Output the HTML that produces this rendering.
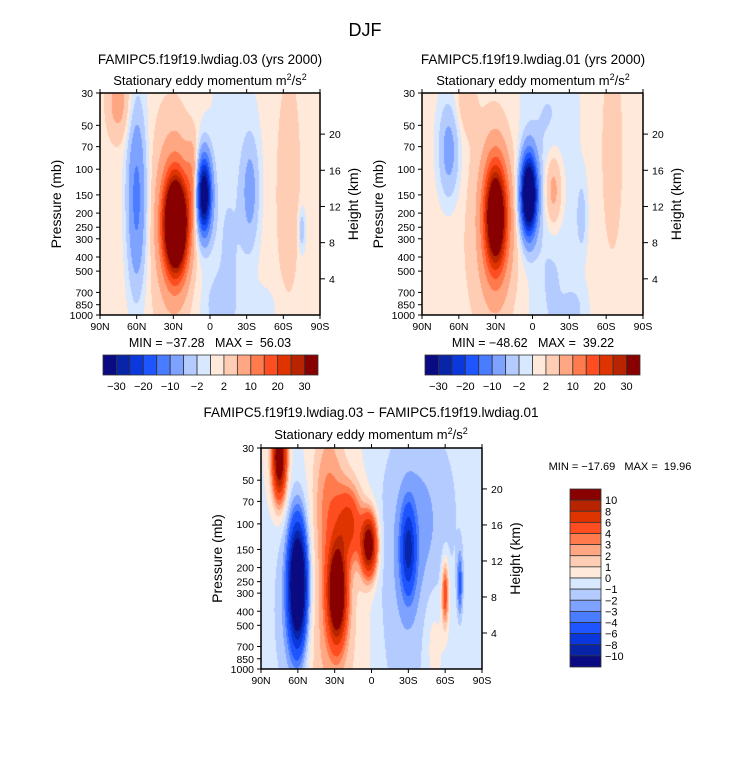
<!DOCTYPE html>
<html><head><meta charset="utf-8">
<style>
body{margin:0;background:#fff;width:733px;height:762px;overflow:hidden;font-family:"Liberation Sans",sans-serif}
#wrap{position:relative;width:733px;height:762px}
canvas{position:absolute}
svg{position:absolute;left:0;top:0}
text{white-space:pre}
</style></head><body>
<div id="wrap">
<canvas id="c1" width="220" height="222" style="left:100px;top:93px"></canvas>
<canvas id="c2" width="221" height="222" style="left:422px;top:93px"></canvas>
<canvas id="c3" width="221" height="221" style="left:261px;top:448px"></canvas>
<svg id="s" width="733" height="762"></svg>
</div>
<script>
const levelsAbs=[-30,-25,-20,-15,-10,-5,-2,0,2,5,10,15,20,25,30];
const levelsDiff=[-10,-8,-6,-4,-3,-2,-1,0,1,2,3,4,6,8,10];
const colors=["#0a0a82","#0824a8","#0a38dc","#1e55ff","#4a7cff","#7ea2ff","#b4cbff","#d8e8ff","#ffe9da","#ffcdb4","#ffa682","#ff7a4c","#ff4d22","#e03400","#b82400","#880000"];
const pTicks=[30,50,70,100,150,200,250,300,400,500,700,850,1000];
const latTicks=[90,60,30,0,-30,-60,-90];
const latLabels=["90N","60N","30N","0","30S","60S","90S"];
const zTicks=[4,8,12,16,20];
const cbAbsLabels=["-30","-20","-10","-2","2","10","20","30"];
const cbDiffLabels=["10","8","6","4","3","2","1","0","\u22121","\u22122","\u22123","\u22124","\u22126","\u22128","\u221210"];
// blobs: lat, pressure(mb), amplitude, sigmaLat(deg), sigmaLnP
const blobs1=[[60,160,-13,5.5,1.0],[28,240,58,6.5,0.5],[30,220,9,10,1.0],[5,150,-40,4.2,0.42],[14,120,8,4,0.45],[-33,140,-7,5,0.6],[-65,100,3.5,6,1.1],[-75,260,-5,2,0.25],[75,35,6,7,0.4],[50,300,1.5,30,2.5],[-60,300,1.5,15,2],[-15,400,-2.5,10,1.4],[-5,850,-2.5,8,0.3],[-45,900,-2,8,0.25]];
const blobs2=[[68,75,-8,6,0.55],[30,210,42,6,0.55],[30,250,8,11,1.0],[3,150,-52,4.5,0.42],[-17,140,8,5,0.45],[-40,210,-4,3,0.4],[-65,60,3.5,5,0.9],[55,300,1.5,30,2.5],[-65,300,1.5,15,2.5],[-15,400,-2.5,10,1.6],[-35,900,-2.5,7,0.3],[55,35,3,6,0.35],[-10,45,-1.5,14,0.6]];
const blobs3=[[75,35,14,4,0.45],[60,260,-17,5,0.65],[28,300,16,5,0.5],[2,140,13,4.5,0.33],[18,100,6,7,0.4],[35,70,3,9,0.9],[-30,150,-7,4,0.45],[-60,300,6,2,0.35],[-72,260,-4,1.6,0.35],[-40,80,-1.8,25,1.2],[-25,500,-1.5,20,1.5],[65,400,-2,12,1.2],[40,700,1.5,12,1],[-50,600,1.3,6,0.6],[20,400,1.2,20,1.5]];

function lnTop(){return Math.log(1000/30);}
function yOfP(p,y0,h){return y0+h*(1-Math.log(1000/p)/lnTop());}
function xOfLat(l,x0,w){return x0+w*(90-l)/180;}
function field(b,lat,p){let v=0;const lp=Math.log(p);for(const q of b){const dl=(lat-q[0])/q[3],dp=(lp-Math.log(q[1]))/q[4];v+=q[2]*Math.exp(-0.5*(dl*dl+dp*dp));}return v;}
function colIdx(v,lev){let i=0;while(i<lev.length&&v>=lev[i])i++;return i;}
function draw(id,b,lev){const c=document.getElementById(id),ctx=c.getContext('2d'),W=c.width,H=c.height;
 for(let y=0;y<H;y++)for(let x=0;x<W;x++){const lat=90-180*(x+0.5)/W;const p=1000*Math.exp(-lnTop()*(1-(y+0.5)/H));ctx.fillStyle=colors[colIdx(field(b,lat,p),lev)];ctx.fillRect(x,y,1,1);}}
draw('c1',blobs1,levelsAbs);draw('c2',blobs2,levelsAbs);draw('c3',blobs3,levelsDiff);

const S=document.getElementById('s'),NS='http://www.w3.org/2000/svg';
function el(t,a,txt){const e=document.createElementNS(NS,t);for(const k in a)e.setAttribute(k,a[k]);if(txt!==undefined)e.textContent=txt;S.appendChild(e);return e;}
function text(x,y,s,size,anchor,name,rot){const e=el('text',{x:x,y:y,'font-size':size,'text-anchor':anchor||'middle',fill:'#000','font-family':'Liberation Sans, sans-serif'},s);
 if(rot)e.setAttribute('transform','rotate(-90 '+x+' '+y+')');
 
 return e;}
function axes(x0,y0,w,h,tag){
 const r=el('rect',{x:x0,y:y0,width:w,height:h,fill:'none',stroke:'#000','stroke-width':1.5});
 
 
 pTicks.forEach(p=>{const y=yOfP(p,y0,h);el('line',{x1:x0-4,x2:x0,y1:y,y2:y,stroke:'#000'});text(x0-7,y+4,String(p),10.5,'end',tag+'-pressure-tick');});
 latTicks.forEach((l,i)=>{const x=xOfLat(l,x0,w);el('line',{x1:x,x2:x,y1:y0+h,y2:y0+h+4,stroke:'#000'});el('line',{x1:x,x2:x,y1:y0,y2:y0-4,stroke:'#000'});text(x,y0+h+15,latLabels[i],10.5,'middle',tag+'-lat-tick');});
 zTicks.forEach(z=>{const y=yOfP(1000*Math.exp(-z/7),y0,h);el('line',{x1:x0+w,x2:x0+w+5,y1:y,y2:y,stroke:'#000'});text(x0+w+9,y+4,String(z),10.5,'start',tag+'-height-tick');});
 text(x0-39,y0+h/2,'Pressure (mb)',14,'middle',tag+'-y-axis-title',true);
 text(x0+w+38,y0+h/2,'Height (km)',14,'middle',tag+'-right-axis-title',true);
}
function subtitle(cx,y,name){const t=text(cx,y,'Stationary eddy momentum m',13,'middle',name);
 const a=el('tspan',{dy:-5,'font-size':9},'2');const b=el('tspan',{dy:5},'/s');const c=el('tspan',{dy:-5,'font-size':9},'2');t.appendChild(a);t.appendChild(b);t.appendChild(c);}
function hbar(x0,y0,w,h,tag){const bw=w/16;colors.forEach((c,i)=>{const r=el('rect',{x:x0+i*bw,y:y0,width:bw,height:h,fill:c,stroke:'#333','stroke-width':0.8});
 
 });
 cbAbsLabels.forEach((s,i)=>{text(x0+(2*i+1)*bw,y0+h+15,s.replace('-','\u2212'),11,'middle',tag+'-colorbar-label');});}

text(365,36,'DJF',18,'middle','figure-title');
text(210,64,'FAMIPC5.f19f19.lwdiag.03 (yrs 2000)',13.5,'middle','panel-03-title');
subtitle(210,85,'panel-03-subtitle');
axes(100,93,220,222,'panel-03');
text(210,347,'MIN = \u221237.28   MAX =  56.03',12.5,'middle','panel-03-minmax');
hbar(103,355,215,20,'panel-03');

text(533,64,'FAMIPC5.f19f19.lwdiag.01 (yrs 2000)',13.5,'middle','panel-01-title');
subtitle(533,85,'panel-01-subtitle');
axes(422,93,221,222,'panel-01');
text(533,347,'MIN = \u221248.62   MAX =  39.22',12.5,'middle','panel-01-minmax');
hbar(425,355,215,20,'panel-01');

text(371,417,'FAMIPC5.f19f19.lwdiag.03 \u2212 FAMIPC5.f19f19.lwdiag.01',13.5,'middle','panel-diff-title');
subtitle(371,439,'panel-diff-subtitle');
axes(261,448,221,221,'panel-diff');
text(620,470,'MIN = \u221217.69   MAX =  19.96',11,'middle','panel-diff-minmax');
(function(){const x0=570,y0=489,w=31,h=178,bh=h/16;
 colors.slice().reverse().forEach((c,i)=>{const r=el('rect',{x:x0,y:y0+i*bh,width:w,height:bh,fill:c,stroke:'#333','stroke-width':0.8});
 
 });
 cbDiffLabels.forEach((s,i)=>{text(x0+w+4,y0+(i+1)*bh+4,s,11,'start','panel-diff-colorbar-label');});})();
</script>
</body></html>
